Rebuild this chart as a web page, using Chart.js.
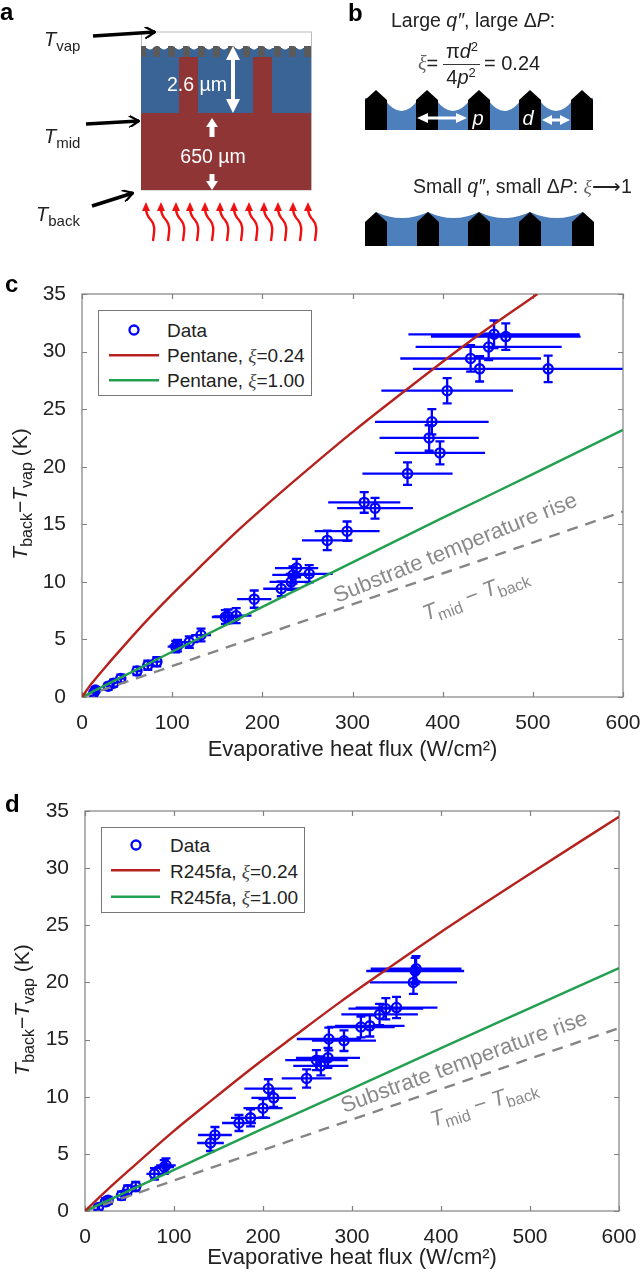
<!DOCTYPE html>
<html>
<head>
<meta charset="utf-8">
<title>Evaporative heat flux</title>
<script src="https://cdn.jsdelivr.net/npm/chart.js@4/dist/chart.umd.min.js"></script>
<style>
  html, body { margin: 0; padding: 0; background: #fff; }
  #page { position: relative; width: 640px; height: 1274px; overflow: hidden; }
  canvas { position: absolute; left: 0; }
  #chart-c { top: 270px; }
  #chart-d { top: 790px; }
  svg { position: absolute; left: 0; top: 0; font-family: "Liberation Sans", Arial, sans-serif; fill: #222; }
  .sym { font-family: "Liberation Serif", serif; font-style: italic; }
</style>
</head>
<body>
<div id="page">
  <canvas id="chart-c" width="640" height="495"></canvas>
  <canvas id="chart-d" width="640" height="484"></canvas>
  <svg id="overlay" width="640" height="1274" viewBox="0 0 640 1274">
    <defs>
      <marker id="blackHead" viewBox="0 0 12 12" refX="11" refY="6" markerWidth="12" markerHeight="12" markerUnits="userSpaceOnUse" orient="auto">
        <path d="M1 0 L11 6 L1 12" fill="none" stroke="#000" stroke-width="2.2"/>
      </marker>
    </defs>

    <!-- panel letters -->
    <text x="0" y="20" font-size="24" font-weight="bold" fill="#000">a</text>
    <text x="348" y="21" font-size="24" font-weight="bold" fill="#000">b</text>
    <text x="5" y="292" font-size="24" font-weight="bold" fill="#000">c</text>
    <text x="5" y="812" font-size="24" font-weight="bold" fill="#000">d</text>

    <!-- panel a -->
    <rect x="141.5" y="32" width="170" height="158" fill="#fff" stroke="#aaa" stroke-width="0.8"/>
    <rect x="141" y="48" width="170" height="66" fill="#3a6496"/>
    <g id="wick" fill="#5a5a5a"></g>
    <rect x="179" y="57" width="19" height="57" fill="#8f3535"/>
    <rect x="253" y="57" width="19" height="57" fill="#8f3535"/>
    <rect x="141" y="113" width="170" height="77" fill="#8f3535"/>
    <path d="M233 46 L226 60 L231 60 L231 99 L226 99 L233 113 L240 99 L235 99 L235 60 L240 60 Z" fill="#fff"/>
    <path d="M212 118 L206 127 L209.500 127 L209.500 137 L214.500 137 L214.500 127 L218 127 Z" fill="#fff"/>
    <path d="M212 190 L206 181 L209.500 181 L209.500 174 L214.500 174 L214.500 181 L218 181 Z" fill="#fff"/>
    <text x="197" y="91" font-size="19.5" text-anchor="middle" fill="#fff">2.6 µm</text>
    <text x="213" y="163" font-size="19.5" text-anchor="middle" fill="#fff">650 µm</text>
    <g stroke="#000" stroke-width="3.5" fill="none">
      <path d="M93 36 L155 32" marker-end="url(#blackHead)"/>
      <path d="M86 124 L139 121" marker-end="url(#blackHead)"/>
      <path d="M92 206 L133 193" marker-end="url(#blackHead)"/>
    </g>
    <text x="44" y="46" font-size="20"><tspan font-style="italic">T</tspan><tspan font-size="15" dy="5">vap</tspan></text>
    <text x="44" y="143" font-size="20"><tspan font-style="italic">T</tspan><tspan font-size="15" dy="5">mid</tspan></text>
    <text x="36" y="221" font-size="20"><tspan font-style="italic">T</tspan><tspan font-size="15" dy="5">back</tspan></text>
    <g id="heat" fill="none" stroke="#f01010" stroke-width="2.4"></g>

    <!-- panel b -->
    <rect x="365" y="98" width="228" height="32" fill="#4c7fbb"/>
    <g id="top-menisci" fill="#fff"></g>
    <g id="top-posts" fill="#000"></g>
    <rect x="365" y="233" width="229" height="13" fill="#4c7fbb"/>
    <g id="low-fill" fill="#4c7fbb"></g>
    <g id="low-posts" fill="#000"></g>
    <text x="391" y="27" font-size="19.5">Large <tspan font-style="italic">q″</tspan>, large Δ<tspan font-style="italic">P</tspan>:</text>
    <text x="418" y="70" font-size="20"><tspan class="sym" fill="#666">ξ</tspan>=</text>
    <text x="462" y="58" font-size="20" text-anchor="middle">π<tspan font-style="italic">d</tspan><tspan font-size="13" dy="-7">2</tspan></text>
    <rect x="443" y="64" width="37" height="0.9" fill="#222"/>
    <text x="461" y="84" font-size="20" text-anchor="middle">4<tspan font-style="italic">p</tspan><tspan font-size="13" dy="-7">2</tspan></text>
    <text x="484" y="70" font-size="20">= 0.24</text>
    <path d="M417 118 L428 113 L428 116.500 L456 116.500 L456 113 L467 118 L456 123 L456 119.500 L428 119.500 L428 123 Z" fill="#fff"/>
    <path d="M542 120 L552 115 L552 118.500 L560 118.500 L560 115 L570 120 L560 125 L560 121.500 L552 121.500 L552 125 Z" fill="#fff"/>
    <text x="478" y="125" font-size="20" font-style="italic" fill="#fff" text-anchor="middle">p</text>
    <text x="528" y="125" font-size="20" font-style="italic" fill="#fff" text-anchor="middle">d</text>
    <text x="413" y="193" font-size="19.5">Small <tspan font-style="italic">q″</tspan>, small Δ<tspan font-style="italic">P</tspan>: <tspan class="sym" fill="#666">ξ</tspan>⟶1</text>

    <!-- panel c text -->
    <text transform="translate(27,494) rotate(-90)" font-size="21" text-anchor="middle"><tspan font-style="italic">T</tspan><tspan font-size="16" dy="5">back</tspan><tspan dy="-5">−</tspan><tspan font-style="italic">T</tspan><tspan font-size="16" dy="5">vap</tspan><tspan dy="-5"> (K)</tspan></text>
    <text transform="translate(337,603) rotate(-22)" font-size="22" fill="#8a8a8a">Substrate temperature rise</text>
    <text transform="translate(426,621) rotate(-21)" font-size="22" fill="#8a8a8a"><tspan font-style="italic">T</tspan><tspan font-size="16" dy="5">mid</tspan><tspan dy="-5"> − </tspan><tspan font-style="italic">T</tspan><tspan font-size="16" dy="5">back</tspan></text>
    <rect x="98.500" y="310.500" width="213" height="85" fill="#fff" stroke="#777" stroke-width="1"/>
    <circle cx="134" cy="330" r="4.500" fill="none" stroke="#0000ff" stroke-width="2.300"/>
    <rect x="109" y="354" width="50" height="2.500" fill="#b5221e"/>
    <rect x="109" y="379" width="50" height="2.500" fill="#22a050"/>
    <text x="167" y="337" font-size="19">Data</text>
    <text x="167" y="362" font-size="19">Pentane, <tspan class="sym" fill="#444">ξ</tspan>=0.24</text>
    <text x="167" y="387" font-size="19">Pentane, <tspan class="sym" fill="#444">ξ</tspan>=1.00</text>

    <!-- panel d text -->
    <text transform="translate(29,1010) rotate(-90)" font-size="21" text-anchor="middle"><tspan font-style="italic">T</tspan><tspan font-size="16" dy="5">back</tspan><tspan dy="-5">−</tspan><tspan font-style="italic">T</tspan><tspan font-size="16" dy="5">vap</tspan><tspan dy="-5"> (K)</tspan></text>
    <text transform="translate(344,1113) rotate(-20)" font-size="22" fill="#8a8a8a">Substrate temperature rise</text>
    <text transform="translate(433,1127) rotate(-18)" font-size="22" fill="#8a8a8a"><tspan font-style="italic">T</tspan><tspan font-size="16" dy="5">mid</tspan><tspan dy="-5"> − </tspan><tspan font-style="italic">T</tspan><tspan font-size="16" dy="5">back</tspan></text>
    <rect x="101.500" y="827.500" width="203" height="85" fill="#fff" stroke="#777" stroke-width="1"/>
    <circle cx="136" cy="845" r="4.500" fill="none" stroke="#0000ff" stroke-width="2.300"/>
    <rect x="111" y="869" width="49" height="2.500" fill="#b5221e"/>
    <rect x="111" y="895.500" width="49" height="2.500" fill="#22a050"/>
    <text x="170" y="852" font-size="19">Data</text>
    <text x="170" y="878" font-size="19">R245fa, <tspan class="sym" fill="#444">ξ</tspan>=0.24</text>
    <text x="170" y="904" font-size="19">R245fa, <tspan class="sym" fill="#444">ξ</tspan>=1.00</text>
  </svg>
</div>

<script>
const COLOR_BLUE = '#0000ff';
const COLOR_RED = '#b5221e';
const COLOR_GREEN = '#22a050';
const COLOR_GRAY = '#858585';
const COLOR_FRAME = '#808080';
const FONT = '"Liberation Sans", Arial, sans-serif';

// panel c, measured points
const cFlux = [457, 470, 451, 431, 441, 517, 405, 388, 385, 397, 361, 313, 325, 294, 272, 252, 238, 234, 232, 221, 191, 171, 162, 159, 132, 119, 106, 104, 83, 73, 61, 43, 35, 29, 15, 13];
const cDelta = [31.5, 31.3, 30.4, 29.4, 28.5, 28.5, 26.6, 23.9, 22.5, 21.2, 19.4, 16.9, 16.4, 14.4, 13.6, 10.7, 11.2, 10.6, 10.0, 9.4, 8.5, 7.06, 7.0, 6.95, 5.38, 4.77, 4.46, 4.37, 3.07, 2.75, 2.26, 1.6, 1.2, 0.93, 0.6, 0.35];
const cFluxErr = [95, 83, 81, 78, 74, 92, 73, 63, 55, 50, 50, 40, 42, 36, 28, 26, 24, 23, 24, 20, 19, 17, 16, 15, 11, 10, 9, 9, 6, 6, 5, 4, 3, 3, 2, 2];
const cDeltaErr = [1.2, 1.15, 1.15, 1.15, 1.1, 1.15, 1.1, 1.1, 1.1, 1.0, 0.97, 0.9, 0.9, 0.84, 0.85, 0.75, 0.8, 0.75, 0.7, 0.65, 0.75, 0.65, 0.6, 0.6, 0.55, 0.5, 0.5, 0.5, 0.4, 0.4, 0.35, 0.35, 0.3, 0.3, 0.25, 0.2];

// panel c, model curves
const cRedFlux = [0, 10, 27, 46, 72, 101, 131, 168, 205, 242, 300, 360, 427, 505];
const cRedDelta = [0, 1.1, 2.7, 4.4, 6.65, 9.0, 11.3, 14.1, 16.7, 19.2, 23, 26.7, 30.7, 35];
const cGreenFlux = [0, 50, 100, 131, 175, 242, 286, 397, 500, 600];
const cGreenDelta = [0, 1.97, 3.93, 5.15, 6.85, 9.45, 11.15, 15.45, 19.35, 23.2];
const cGrayFlux = [0, 600];
const cGrayDelta = [0, 16.1];

// panel d, measured points
const dFlux = [371, 372, 369, 350, 338, 331, 320, 310, 291, 274, 273, 260, 265, 249, 206, 212, 200, 186, 173, 146, 141, 91, 89, 78, 57, 48, 41, 26, 23, 15];
const dDelta = [21.0, 21.2, 20.0, 17.8, 17.7, 17.2, 16.2, 16.1, 14.9, 15.05, 13.4, 13.2, 12.7, 11.6, 10.7, 9.9, 9.0, 8.15, 7.7, 6.65, 5.95, 4.0, 3.85, 3.25, 2.15, 1.85, 1.35, 0.93, 0.8, 0.3];
const dFluxErr = [55, 51, 49, 46, 42, 43, 39, 38, 36, 36, 36, 35, 31, 28, 27, 25, 22, 22, 19, 19, 15, 11, 11, 9, 6, 5, 4, 3, 3, 2];
const dDeltaErr = [1.15, 1.1, 1.0, 0.93, 0.93, 0.93, 0.93, 0.9, 0.9, 1.0, 0.87, 0.87, 0.83, 0.8, 0.83, 0.8, 0.8, 0.75, 0.7, 0.7, 0.7, 0.6, 0.6, 0.5, 0.4, 0.4, 0.35, 0.3, 0.3, 0.2];

// panel d, model curves
const dRedFlux = [0, 25, 50, 99, 140, 190, 236, 287, 340, 396, 490, 600];
const dRedDelta = [0, 1.85, 3.6, 6.95, 9.55, 12.65, 15.35, 18.3, 21.2, 24.2, 29, 34.5];
const dGreenFlux = [0, 100, 200, 287, 400, 500, 600];
const dGreenDelta = [0, 3.6, 7.2, 10.25, 14.25, 17.75, 21.25];
const dGrayFlux = [0, 600];
const dGrayDelta = [0, 16];

const X_TICKS = [0, 100, 200, 300, 400, 500, 600];
const Y_TICKS = [0, 5, 10, 15, 20, 25, 30, 35];

function toPoints(xs, ys) {
    return xs.map((x, i) => ({ x: x, y: ys[i] }));
}

// inward ticks on all four sides, matlab "box on" look
const framePlugin = {
    id: 'frame',
    beforeDatasetsDraw(chart) {
        const { ctx, chartArea: a, scales } = chart;
        const len = 5;
        ctx.save();
        ctx.strokeStyle = COLOR_FRAME;
        ctx.lineWidth = 1.2;
        ctx.strokeRect(a.left, a.top, a.right - a.left, a.bottom - a.top);
        ctx.beginPath();
        X_TICKS.forEach(t => {
            const px = Math.round(scales.x.getPixelForValue(t)) + 0.5;
            ctx.moveTo(px, a.bottom); ctx.lineTo(px, a.bottom - len);
            ctx.moveTo(px, a.top); ctx.lineTo(px, a.top + len);
        });
        Y_TICKS.forEach(t => {
            const py = Math.round(scales.y.getPixelForValue(t)) + 0.5;
            ctx.moveTo(a.left, py); ctx.lineTo(a.left + len, py);
            ctx.moveTo(a.right, py); ctx.lineTo(a.right - len, py);
        });
        ctx.stroke();
        ctx.restore();
    }
};

// chart.js has no error bars, so draw them from the scales
const errorBarPlugin = {
    id: 'errorBars',
    beforeDatasetsDraw(chart, args, opts) {
        const { ctx, chartArea: a, scales } = chart;
        const cap = 4.5;
        ctx.save();
        ctx.beginPath();
        ctx.rect(a.left, a.top, a.right - a.left, a.bottom - a.top);
        ctx.clip();
        ctx.strokeStyle = COLOR_BLUE;
        ctx.lineWidth = 2.3;
        ctx.beginPath();
        opts.xs.forEach((x, i) => {
            const y = opts.ys[i];
            const px = scales.x.getPixelForValue(x);
            const py = scales.y.getPixelForValue(y);
            ctx.moveTo(scales.x.getPixelForValue(x - opts.xErr[i]), py);
            ctx.lineTo(scales.x.getPixelForValue(x + opts.xErr[i]), py);
            const top = scales.y.getPixelForValue(y + opts.yErr[i]);
            const bottom = scales.y.getPixelForValue(y - opts.yErr[i]);
            ctx.moveTo(px, top); ctx.lineTo(px, bottom);
            ctx.moveTo(px - cap, top); ctx.lineTo(px + cap, top);
            ctx.moveTo(px - cap, bottom); ctx.lineTo(px + cap, bottom);
        });
        ctx.stroke();
        ctx.restore();
    }
};

function curve(xs, ys, color, dash) {
    return {
        data: toPoints(xs, ys),
        showLine: true,
        pointRadius: 0,
        borderColor: color,
        borderWidth: 2.4,
        borderDash: dash || [],
        cubicInterpolationMode: dash ? 'default' : 'monotone',
        fill: false
    };
}

function buildChart(id, set) {
    return new Chart(document.getElementById(id), {
        type: 'scatter',
        data: {
            datasets: [
                curve(set.redX, set.redY, COLOR_RED),
                curve(set.greenX, set.greenY, COLOR_GREEN),
                curve(set.grayX, set.grayY, COLOR_GRAY, [11, 8]),
                {
                    data: toPoints(set.xs, set.ys),
                    pointRadius: 4.6,
                    pointBorderWidth: 2.3,
                    pointBorderColor: COLOR_BLUE,
                    pointBackgroundColor: 'rgba(0,0,0,0)'
                }
            ]
        },
        plugins: [errorBarPlugin, framePlugin],
        options: {
            responsive: false,
            animation: false,
            layout: { padding: { top: set.padTop, right: set.padRight, left: 0, bottom: 0 } },
            plugins: {
                legend: { display: false },
                tooltip: { enabled: false },
                errorBars: { xs: set.xs, ys: set.ys, xErr: set.xErr, yErr: set.yErr }
            },
            scales: {
                x: {
                    type: 'linear',
                    min: 0,
                    max: 600,
                    // fixed box, so the plot area lands where the figure has it
                    afterFit: s => { s.height = set.xAxisHeight; s.paddingLeft = 0; s.paddingRight = 0; },
                    grid: { display: false },
                    border: { display: false },
                    ticks: {
                        stepSize: 100,
                        padding: 6,
                        maxRotation: 0,
                        color: '#222',
                        font: { family: FONT, size: 21 }
                    },
                    title: {
                        display: true,
                        text: 'Evaporative heat flux (W/cm²)',
                        color: '#222',
                        padding: { top: 0, bottom: set.titlePad },
                        font: { family: FONT, size: 22 }
                    }
                },
                y: {
                    type: 'linear',
                    min: 0,
                    max: 35,
                    afterFit: s => { s.width = set.yAxisWidth; s.paddingTop = 0; s.paddingBottom = 0; },
                    grid: { display: false },
                    border: { display: false },
                    ticks: {
                        stepSize: 5,
                        padding: 8,
                        color: '#222',
                        font: { family: FONT, size: 21 }
                    }
                }
            }
        }
    });
}

buildChart('chart-c', {
    xs: cFlux, ys: cDelta, xErr: cFluxErr, yErr: cDeltaErr,
    redX: cRedFlux, redY: cRedDelta,
    greenX: cGreenFlux, greenY: cGreenDelta,
    grayX: cGrayFlux, grayY: cGrayDelta,
    padTop: 24, padRight: 17, xAxisHeight: 68, yAxisWidth: 82, titlePad: 2
});

buildChart('chart-d', {
    xs: dFlux, ys: dDelta, xErr: dFluxErr, yErr: dDeltaErr,
    redX: dRedFlux, redY: dRedDelta,
    greenX: dGreenFlux, greenY: dGreenDelta,
    grayX: dGrayFlux, grayY: dGrayDelta,
    padTop: 21, padRight: 21, xAxisHeight: 63, yAxisWidth: 85, titlePad: 3
});

// schematic pieces of panels a and b
const NS = 'http://www.w3.org/2000/svg';
function add(parent, tag, attrs) {
    const el = document.createElementNS(NS, tag);
    Object.keys(attrs).forEach(k => el.setAttribute(k, attrs[k]));
    document.getElementById(parent).appendChild(el);
}

const WICK_X = [141, 153, 168, 183, 198, 213, 228, 243, 258, 274, 289, 304];
WICK_X.forEach(x => add('wick', 'rect', { x: x, y: 46, width: x === 141 ? 5 : 7, height: 11 }));
WICK_X.slice(0, -1).forEach(x => add('wick', 'path', { d: `M${x + (x === 141 ? 5 : 7)} 47 q4 5 8 0 L${x + 15} 46 L${x + 5} 46 Z`, fill: '#fff' }));

const HEAT_X = [153, 168, 183, 197, 212, 227, 241, 256, 271, 285, 300, 315];
HEAT_X.forEach(x => {
    add('heat', 'path', { d: `M${x} 241 C${x + 1} 232 ${x + 3} 226 ${x - 2} 220 C${x - 6} 216 ${x - 7} 212 ${x - 7} 208` });
    add('heat', 'path', { d: `M${x - 7} 202 L${x - 11} 211 L${x - 3} 211 Z`, fill: '#f01010', stroke: 'none' });
});

const TOP_POSTS = [365, 416, 468, 519, 571];
const LOW_POSTS = [365, 417, 468, 519, 572];
function post(x, top, shoulder, bottom) {
    return `M${x} ${shoulder} L${x + 11} ${top} L${x + 22} ${shoulder} L${x + 22} ${bottom} L${x} ${bottom} Z`;
}
TOP_POSTS.forEach((x, i) => {
    add('top-posts', 'path', { d: post(x, 90, 100, 130) });
    if (i < 4) {
        const next = TOP_POSTS[i + 1];
        add('top-menisci', 'path', { d: `M${x + 20} 97 L${x + 20} 100 Q${(x + 22 + next) / 2} 122 ${next + 2} 100 L${next + 2} 97 Z` });
    }
});
LOW_POSTS.forEach((x, i) => {
    add('low-posts', 'path', { d: post(x, 212, 222, 246) });
    if (i < 4) {
        const next = LOW_POSTS[i + 1];
        add('low-fill', 'path', { d: `M${x + 11} 212 Q${(x + 22 + next) / 2} 224 ${next + 11} 212 L${next + 11} 240 L${x + 11} 240 Z` });
    }
});
</script>
</body>
</html>
